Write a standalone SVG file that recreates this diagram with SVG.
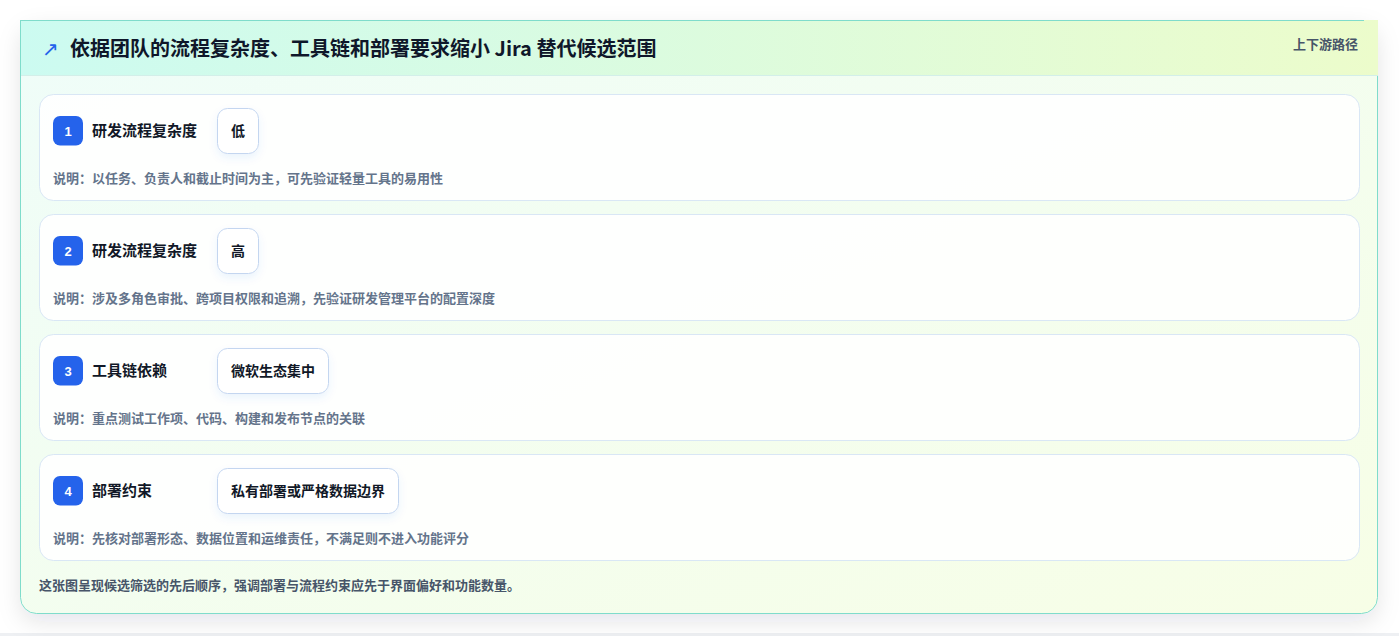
<svg xmlns="http://www.w3.org/2000/svg" width="1399" height="636" viewBox="0 0 1399 636">
<defs>
<linearGradient id="hdr" x1="0" y1="0" x2="1" y2="0">
<stop offset="0" stop-color="#ccfbf1"/>
<stop offset="1" stop-color="#ecfccb"/>
</linearGradient>
<linearGradient id="body" x1="0" y1="0" x2="1" y2="1">
<stop offset="0" stop-color="#effdf9"/>
<stop offset="1" stop-color="#f7fee6"/>
</linearGradient>
<filter id="cardShadow" x="-5%" y="-10%" width="110%" height="125%">
<feDropShadow dx="0" dy="8" stdDeviation="11" flood-color="#0f172a" flood-opacity="0.10"/>
</filter>
<filter id="tagShadow" x="-30%" y="-30%" width="160%" height="170%">
<feDropShadow dx="0" dy="4" stdDeviation="4" flood-color="#2563eb" flood-opacity="0.08"/>
</filter>
<style>
.item{fill:#ffffff;fill-opacity:0.88;stroke:#d9e7f5;stroke-width:1}
.badge{fill:#2563eb}
.num{font-family:"Liberation Sans","Noto Sans CJK SC",sans-serif;font-size:13px;font-weight:700;fill:#ffffff;text-anchor:middle}
.label{font-family:"Noto Sans CJK SC",sans-serif;font-size:15px;font-weight:700;fill:#111827}
.tag{fill:#ffffff;stroke:#c4d6f0;stroke-width:1}
.tagt{font-family:"Noto Sans CJK SC",sans-serif;font-size:14px;font-weight:700;fill:#111827;text-anchor:middle}
.desc{font-family:"Noto Sans CJK SC",sans-serif;font-size:13px;font-weight:600;fill:#64748b}
</style>
</defs>
<rect x="0" y="0" width="1399" height="636" fill="#ffffff"/>
<rect x="0" y="633" width="1399" height="3" fill="#eef0f3"/>
<g id="card">
<rect x="20.5" y="20.5" width="1357" height="593" rx="16" fill="url(#body)" stroke="#7fdccb" stroke-width="1" filter="url(#cardShadow)"/>
<rect x="20" y="20" width="1358" height="55" fill="url(#hdr)"/>
<line x1="20" y1="75.5" x2="1378" y2="75.5" stroke="#d3efe9" stroke-width="1"/>
<line x1="20" y1="20.5" x2="1364" y2="20.5" stroke="#7fdccb" stroke-width="1"/>
<line x1="20.5" y1="20" x2="20.5" y2="76" stroke="#7fdccb" stroke-width="1"/>
<text x="42" y="56" font-family="DejaVu Sans,sans-serif" font-size="20" fill="#2563eb">↗</text>
<text x="70" y="56" font-family="Noto Sans CJK SC,sans-serif" font-size="20" font-weight="700" fill="#0f172a">依据团队的流程复杂度、工具链和部署要求缩小 Jira 替代候选范围</text>
<text x="1358" y="49" text-anchor="end" font-family="Noto Sans CJK SC,sans-serif" font-size="13" font-weight="600" fill="#475569">上下游路径</text>
<text x="39" y="590" font-family="Noto Sans CJK SC,sans-serif" font-size="13" font-weight="600" fill="#475569">这张图呈现候选筛选的先后顺序，强调部署与流程约束应先于界面偏好和功能数量。</text>
</g>
<g id="node1">
<rect class="item" x="39.5" y="94.5" width="1320" height="106" rx="14"/>
<rect class="badge" x="53" y="116" width="30" height="29.5" rx="7"/>
<text class="num" x="68" y="135.5">1</text>
<text class="label" x="92" y="136">研发流程复杂度</text>
<rect class="tag" x="217.5" y="108.5" width="41" height="45" rx="10" filter="url(#tagShadow)"/>
<text class="tagt" x="238" y="136">低</text>
<text class="desc" x="53" y="183">说明：以任务、负责人和截止时间为主，可先验证轻量工具的易用性</text>
</g>
<g id="node2">
<rect class="item" x="39.5" y="214.5" width="1320" height="106" rx="14"/>
<rect class="badge" x="53" y="236" width="30" height="29.5" rx="7"/>
<text class="num" x="68" y="255.5">2</text>
<text class="label" x="92" y="256">研发流程复杂度</text>
<rect class="tag" x="217.5" y="228.5" width="41" height="45" rx="10" filter="url(#tagShadow)"/>
<text class="tagt" x="238" y="256">高</text>
<text class="desc" x="53" y="303">说明：涉及多角色审批、跨项目权限和追溯，先验证研发管理平台的配置深度</text>
</g>
<g id="node3">
<rect class="item" x="39.5" y="334.5" width="1320" height="106" rx="14"/>
<rect class="badge" x="53" y="356" width="30" height="29.5" rx="7"/>
<text class="num" x="68" y="375.5">3</text>
<text class="label" x="92" y="376">工具链依赖</text>
<rect class="tag" x="217.5" y="348.5" width="111" height="45" rx="10" filter="url(#tagShadow)"/>
<text class="tagt" x="273" y="376">微软生态集中</text>
<text class="desc" x="53" y="423">说明：重点测试工作项、代码、构建和发布节点的关联</text>
</g>
<g id="node4">
<rect class="item" x="39.5" y="454.5" width="1320" height="106" rx="14"/>
<rect class="badge" x="53" y="476" width="30" height="29.5" rx="7"/>
<text class="num" x="68" y="495.5">4</text>
<text class="label" x="92" y="496">部署约束</text>
<rect class="tag" x="217.5" y="468.5" width="181" height="45" rx="10" filter="url(#tagShadow)"/>
<text class="tagt" x="308" y="496">私有部署或严格数据边界</text>
<text class="desc" x="53" y="543">说明：先核对部署形态、数据位置和运维责任，不满足则不进入功能评分</text>
</g>
<g id="connectors"></g>
</svg>
